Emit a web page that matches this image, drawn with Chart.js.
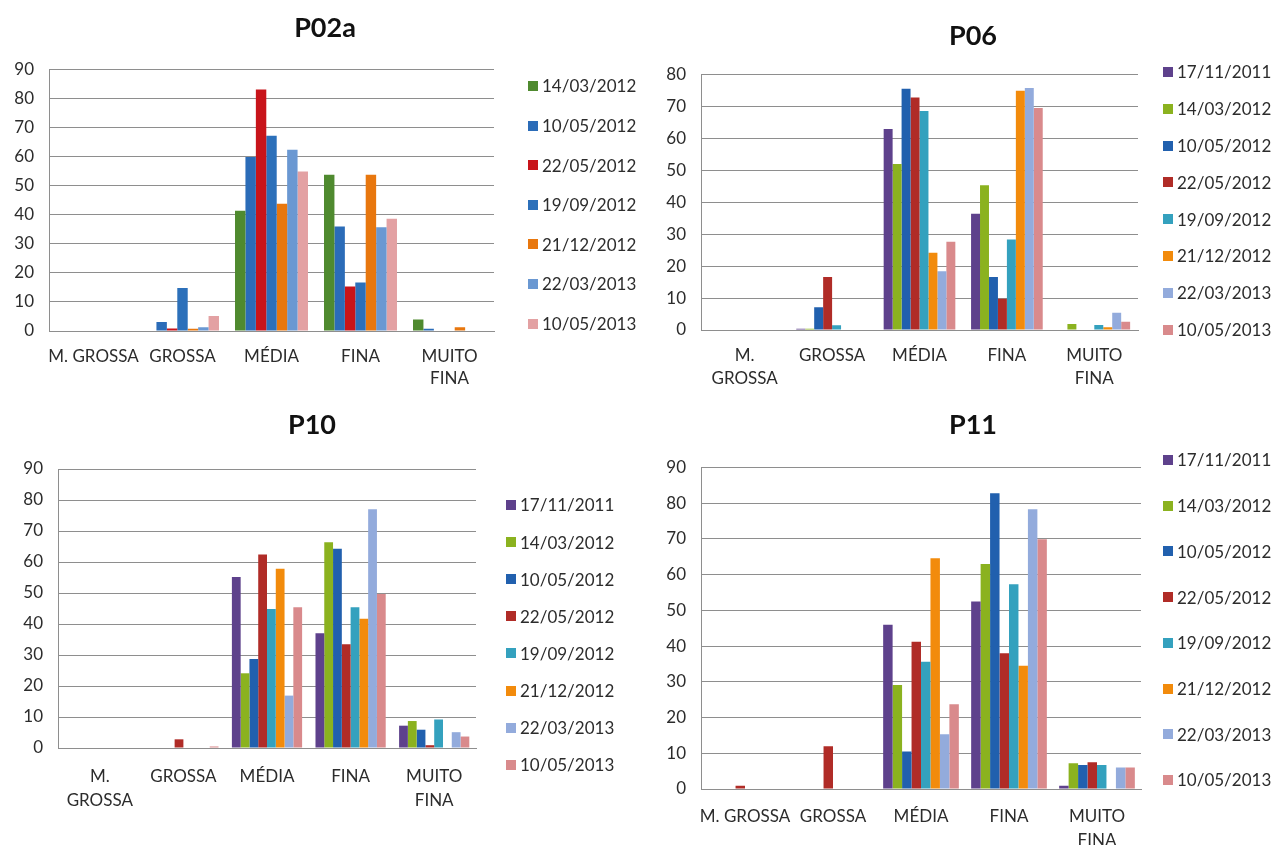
<!DOCTYPE html>
<html>
<head>
<meta charset="utf-8">
<title>Distribuição granulométrica – P02a, P06, P10, P11</title>
<script src="https://cdn.jsdelivr.net/npm/chart.js@4/dist/chart.umd.min.js"></script>
<style>
  html, body { margin: 0; padding: 0; background: #ffffff; }
  #page { position: relative; width: 1274px; height: 845px; overflow: hidden; background: #fff; }
  canvas { position: absolute; display: block; }
</style>
</head>
<body>
<div id="page">
  <canvas id="cP02a" width="650" height="400" style="left:0px;top:0px;"></canvas>
  <canvas id="cP06" width="634" height="400" style="left:640px;top:0px;"></canvas>
  <canvas id="cP10" width="640" height="445" style="left:0px;top:400px;"></canvas>
  <canvas id="cP11" width="634" height="445" style="left:640px;top:400px;"></canvas>
</div>
<script>
// ---- Categories (grain size classes) ----
const classesOneLine = ['M. GROSSA', 'GROSSA', 'MÉDIA', 'FINA', ['MUITO', 'FINA']];
const classesWrapped = [['M.', 'GROSSA'], 'GROSSA', 'MÉDIA', 'FINA', ['MUITO', 'FINA']];

// ---- Sampling dates (legend entries) ----
const datesP02a = ['14/03/2012', '10/05/2012', '22/05/2012', '19/09/2012', '21/12/2012', '22/03/2013', '10/05/2013'];
const datesAll = ['17/11/2011', '14/03/2012', '10/05/2012', '22/05/2012', '19/09/2012', '21/12/2012', '22/03/2013', '10/05/2013'];

// ---- Y axis tick maxima ----
const yMaxP02a = 90;
const yMaxP06 = 80;
const yMaxP10 = 90;
const yMaxP11 = 90;

// ---- P02a (%), order: M. GROSSA, GROSSA, MÉDIA, FINA, MUITO FINA ----
const p02a_20120314 = [0, 0, 41.4, 53.8, 4.0];
const p02a_20120510 = [0, 3.1, 59.9, 36.0, 0.8];
const p02a_20120522 = [0, 0.9, 83.1, 15.3, 0];
const p02a_20120919 = [0, 14.8, 67.2, 16.7, 0];
const p02a_20121221 = [0, 0.8, 43.8, 53.8, 1.3];
const p02a_20130322 = [0, 1.3, 62.4, 35.7, 0];
const p02a_20130510 = [0, 5.2, 54.9, 38.6, 0];

// ---- P06 (%) ----
const p06_20111117 = [0, 0.4, 62.9, 36.4, 0];
const p06_20120314 = [0, 0.4, 52.0, 45.3, 1.9];
const p06_20120510 = [0, 7.1, 75.5, 16.6, 0];
const p06_20120522 = [0, 16.6, 72.8, 9.8, 0];
const p06_20120919 = [0, 1.5, 68.6, 28.3, 1.6];
const p06_20121221 = [0, 0, 24.2, 74.9, 0.9];
const p06_20130322 = [0, 0, 18.4, 75.8, 5.4];
const p06_20130510 = [0, 0, 27.6, 69.5, 2.6];

// ---- P10 (%) ----
const p10_20111117 = [0, 0, 55.2, 37.0, 7.2];
const p10_20120314 = [0, 0, 24.1, 66.4, 8.7];
const p10_20120510 = [0, 0, 28.7, 64.3, 5.9];
const p10_20120522 = [0, 2.8, 62.4, 33.5, 0.9];
const p10_20120919 = [0, 0, 44.8, 45.4, 9.2];
const p10_20121221 = [0, 0, 57.8, 41.7, 0];
const p10_20130322 = [0, 0, 16.9, 77.0, 5.1];
const p10_20130510 = [0, 0.5, 45.4, 49.7, 3.7];

// ---- P11 (%) ----
const p11_20111117 = [0, 0, 46.0, 52.5, 0.9];
const p11_20120314 = [0, 0, 29.1, 63.0, 7.2];
const p11_20120510 = [0, 0, 10.5, 82.8, 6.7];
const p11_20120522 = [0.9, 12.0, 41.2, 38.0, 7.5];
const p11_20120919 = [0, 0, 35.6, 57.3, 6.7];
const p11_20121221 = [0, 0, 64.6, 34.5, 0];
const p11_20130322 = [0, 0, 15.3, 78.3, 6.0];
const p11_20130510 = [0, 0, 23.7, 69.9, 6.0];

// ---- Colours ----
const coloursP02a = ['#4f8a2f', '#2b6cb8', '#c8141a', '#2c70ba', '#e8770e', '#6a98d2', '#e3a1a3'];
const coloursAll = ['#5e418c', '#8bb21f', '#2160ae', '#b02c27', '#34a1be', '#f28b0c', '#93abdc', '#d98a8c'];

const FONT = 'Lato, "Open Sans", "DejaVu Sans", sans-serif';
const TEXT = '#2c2c2c';
const GRID = '#8e8e8e';

// Title and legend drawn beside the plot area
const panelDecor = {
  id: 'panelDecor',
  afterDraw(chart, args, o) {
    const ctx = chart.ctx;
    ctx.save();
    ctx.fillStyle = '#111111';
    ctx.font = 'bold 27px ' + FONT;
    ctx.textAlign = 'center';
    ctx.textBaseline = 'middle';
    ctx.fillText(o.title, o.titleX, o.titleY);

    ctx.font = '17px ' + FONT;
    ctx.textAlign = 'left';
    chart.data.datasets.forEach((ds, i) => {
      const y = o.legendY + i * o.legendStep;
      ctx.fillStyle = ds.backgroundColor;
      ctx.fillRect(o.legendX, Math.round(y - 5), 10, 10);
      ctx.fillStyle = TEXT;
      ctx.fillText(ds.label, o.legendX + 14, y + 1);
    });
    ctx.restore();
  }
};

function buildChart(id, p) {
  const datasets = p.series.map((vals, i) => ({
    label: p.dates[i],
    data: vals,
    backgroundColor: p.colours[i],
    borderWidth: 0,
    categoryPercentage: p.catPct,
    barPercentage: 1.0
  }));
  return new Chart(document.getElementById(id), {
    type: 'bar',
    data: { labels: p.labels, datasets },
    options: {
      responsive: false,
      animation: false,
      layout: { padding: { left: 0, top: p.padTop, right: p.padRight, bottom: 0 } },
      plugins: {
        legend: { display: false },
        tooltip: { enabled: false },
        panelDecor: p.decor
      },
      scales: {
        x: {
          grid: { display: false, drawTicks: false },
          border: { display: true, color: GRID, width: 1 },
          ticks: {
            autoSkip: false, maxRotation: 0, minRotation: 0,
            padding: p.xPad, color: TEXT,
            font: { family: FONT, size: 17, lineHeight: p.xLine }
          },
          afterFit(s) { s.height = p.xAxisH; }
        },
        y: {
          min: 0, max: p.yMax,
          grid: { color: GRID, lineWidth: 1, drawTicks: false },
          border: { display: true, color: GRID, width: 1 },
          ticks: { stepSize: 10, padding: 15, color: TEXT, font: { family: FONT, size: 17 } },
          afterFit(s) { s.width = p.yAxisW; }
        }
      }
    },
    plugins: [panelDecor]
  });
}

buildChart('cP02a', {
  labels: classesOneLine, dates: datesP02a, colours: coloursP02a,
  series: [p02a_20120314, p02a_20120510, p02a_20120522, p02a_20120919, p02a_20121221, p02a_20130322, p02a_20130510],
  yMax: yMaxP02a, catPct: 0.82,
  yAxisW: 49, padRight: 650 - 494, padTop: 69.5, xAxisH: 400 - 331,
  xPad: 14, xLine: 1.3,
  decor: { title: 'P02a', titleX: 325, titleY: 28, legendX: 528, legendY: 86, legendStep: 39.6 }
});

buildChart('cP06', {
  labels: classesWrapped, dates: datesAll, colours: coloursAll,
  series: [p06_20111117, p06_20120314, p06_20120510, p06_20120522, p06_20120919, p06_20121221, p06_20130322, p06_20130510],
  yMax: yMaxP06, catPct: 0.82,
  yAxisW: 701 - 640, padRight: 1274 - 1138, padTop: 74.5, xAxisH: 400 - 330,
  xPad: 14, xLine: 1.35,
  decor: { title: 'P06', titleX: 973 - 640, titleY: 36, legendX: 1163 - 640, legendY: 72, legendStep: 36.8 }
});

buildChart('cP10', {
  labels: classesWrapped, dates: datesAll, colours: coloursAll,
  series: [p10_20111117, p10_20120314, p10_20120510, p10_20120522, p10_20120919, p10_20121221, p10_20130322, p10_20130510],
  yMax: yMaxP10, catPct: 0.84,
  yAxisW: 58, padRight: 640 - 476, padTop: 469 - 400, xAxisH: 845 - 748,
  xPad: 16, xLine: 1.45,
  decor: { title: 'P10', titleX: 312, titleY: 25, legendX: 506, legendY: 105, legendStep: 37.1 }
});

buildChart('cP11', {
  labels: classesOneLine, dates: datesAll, colours: coloursAll,
  series: [p11_20111117, p11_20120314, p11_20120510, p11_20120522, p11_20120919, p11_20121221, p11_20130322, p11_20130510],
  yMax: yMaxP11, catPct: 0.86,
  yAxisW: 701 - 640, padRight: 1274 - 1141, padTop: 467.5 - 400, xAxisH: 845 - 789,
  xPad: 16, xLine: 1.4,
  decor: { title: 'P11', titleX: 973 - 640, titleY: 25, legendX: 1163 - 640, legendY: 60, legendStep: 45.7 }
});
</script>
</body>
</html>
